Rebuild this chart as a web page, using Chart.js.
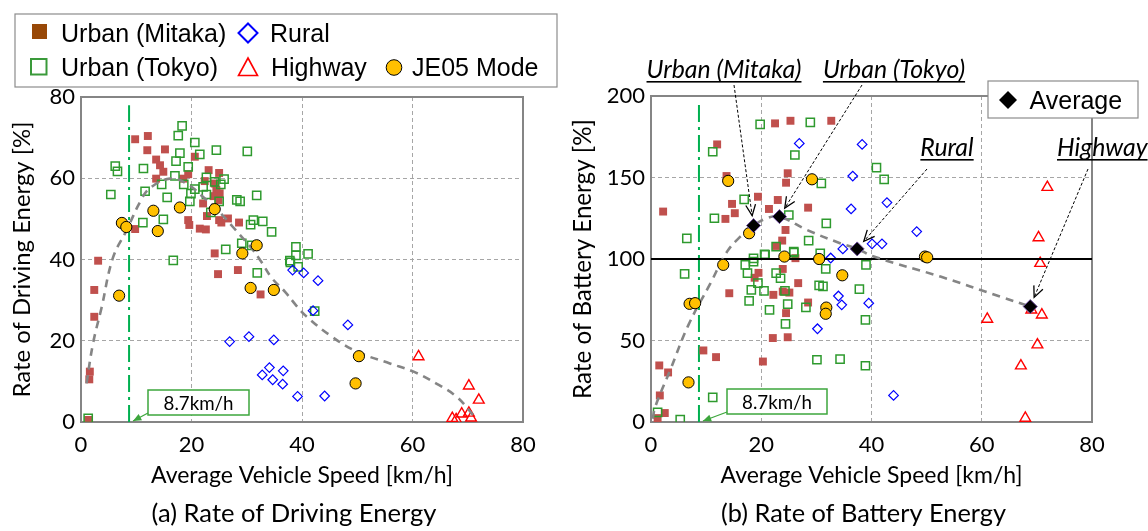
<!DOCTYPE html>
<html><head><meta charset="utf-8">
<script src="https://cdn.jsdelivr.net/npm/chart.js@4.4.1/dist/chart.umd.min.js"></script>
<style>
html,body{margin:0;padding:0;background:#fff;}
body{width:1148px;height:531px;position:relative;overflow:hidden;}
canvas{position:absolute;top:0;}
#ca{left:0;} #cb{left:560px;}
</style></head><body>
<canvas id="ca" width="560" height="531"></canvas>
<canvas id="cb" width="588" height="531"></canvas>
<script>
// ---------- data ----------
const speedTicks = [0, 20, 40, 60, 80];
const drivingTicks = [0, 20, 40, 60, 80];
const batteryTicks = [0, 50, 100, 150, 200];
const refSpeed = 8.7;
const seriesNames = ['Urban (Mitaka)', 'Rural', 'Urban (Tokyo)', 'Highway', 'JE05 Mode'];
const avgLabels = ['Urban (Mitaka)', 'Urban (Tokyo)', 'Rural', 'Highway'];

// (a) Rate of Driving Energy [%] vs speed
const driveMitaka = [[9.8,69.6],[12.1,70.4],[12.0,66.9],[15.2,67.1],[13.6,64.6],[14.3,63.2],[14.9,61.6],[13.6,59.9],[20.6,65.3],[23.1,62.0],[25.0,61.3],[18.5,59.9],[19.4,61.0],[22.4,59.3],[24.2,58.7],[24.5,57.1],[25.1,56.3],[24.0,55.6],[24.9,54.6],[22.1,53.8],[19.4,49.7],[19.6,48.5],[22.8,50.7],[21.5,47.6],[22.6,47.4],[9.8,47.5],[25.0,49.7],[26.6,50.1],[25.4,49.1],[28.6,49.1],[24.2,41.5],[3.1,39.7],[24.8,36.4],[28.4,37.4],[32.5,31.4],[2.4,32.5],[2.4,25.9],[1.6,12.4],[1.5,10.5],[1.3,0.5]];
const driveTokyo = [[18.3,72.9],[17.6,70.5],[20.6,68.8],[24.5,66.9],[30.1,66.6],[17.9,66.2],[21.5,65.9],[17.2,64.2],[19.4,62.8],[6.2,63.0],[6.6,61.7],[11.3,62.4],[17.0,60.6],[14.6,58.5],[18.6,58.5],[22.7,60.2],[24.2,59.1],[25.9,59.8],[25.3,58.5],[20.6,57.3],[22.1,57.9],[19.9,56.2],[11.6,56.8],[5.4,56.0],[15.6,55.3],[22.7,56.0],[31.8,55.8],[19.7,54.3],[25.0,54.3],[28.2,54.7],[28.8,54.3],[14.9,49.9],[11.2,49.1],[23.5,51.6],[31.2,49.7],[32.9,49.4],[30.7,48.6],[34.5,46.8],[29.1,44.0],[30.9,43.5],[26.2,42.5],[38.9,43.1],[38.9,41.0],[16.7,39.8],[37.8,39.7],[41.1,41.4],[31.9,36.7],[37.9,39.3],[39.3,38.2],[42.3,27.3],[1.3,0.9]];
const driveRural = [[26.9,19.8],[30.4,21.0],[34.9,20.2],[34.1,13.4],[36.6,12.6],[32.8,11.6],[34.7,10.4],[36.5,9.3],[39.2,6.3],[44.1,6.4],[38.3,37.4],[40.3,36.7],[42.9,34.8],[42.0,27.4],[48.3,23.9]];
const driveHighway = [[61.1,16.1],[70.2,8.9],[72.0,5.4],[67.2,0.9],[68.9,2.0],[70.2,2.2],[70.6,1.0],[67.9,0.6]];
const driveJE05 = [[7.4,49.0],[8.2,48.0],[13.1,52.0],[13.9,47.0],[17.9,52.8],[24.2,52.4],[29.2,41.5],[31.8,43.5],[6.9,31.1],[30.7,33.0],[34.9,32.5],[50.3,16.2],[49.7,9.5]];
const driveTrend = [[1.0,9.5],[2.2,19.5],[3.7,28.0],[5.8,40.5],[8.3,47.3],[10.7,54.2],[12.5,57.6],[16.1,59.9],[19.1,58.7],[22.1,55.4],[24.5,52.5],[27.5,48.0],[30.9,42.7],[32.6,39.5],[34.5,35.5],[36.9,32.1],[39.0,28.6],[40.8,26.0],[45.0,21.4],[49.8,17.4],[55.9,14.4],[60.2,12.4],[64.4,9.4],[68.0,6.2],[71.0,1.7]];

// (b) Rate of Battery Energy [%] vs speed
const battMitaka = [[12.0,170.3],[22.5,183.2],[25.3,184.8],[32.7,184.8],[13.7,150.9],[2.2,129.1],[19.4,138.2],[14.7,133.8],[15.2,128.1],[13.5,124.6],[23.0,136.2],[21.4,130.7],[24.8,152.6],[24.5,146.8],[28.5,131.5],[24.4,117.8],[23.8,111.3],[22.7,108.0],[14.2,79.0],[18.8,88.5],[19.5,91.5],[23.9,93.9],[22.2,78.0],[23.9,80.0],[25.1,79.4],[26.7,85.2],[28.5,73.3],[24.5,66.8],[22.1,51.5],[24.8,52.0],[20.3,37.1],[9.5,43.9],[11.8,39.8],[1.5,34.7],[3.1,30.4],[1.6,16.3],[2.5,5.5],[1.2,2.4],[26.2,100.5]];
const battTokyo = [[19.8,182.6],[28.9,183.8],[11.2,165.8],[26.1,163.8],[30.9,146.4],[16.9,136.6],[11.5,125.0],[6.5,112.7],[25.0,127.0],[31.8,121.9],[28.6,111.3],[22.7,107.6],[25.9,103.9],[20.6,102.9],[30.7,103.5],[18.6,100.4],[6.1,90.9],[17.1,96.4],[18.6,98.4],[17.5,91.3],[20.7,102.5],[19.4,85.2],[18.2,81.1],[20.5,80.4],[17.8,74.3],[22.7,91.3],[23.5,88.2],[24.3,80.5],[24.8,72.3],[21.5,68.8],[24.4,60.2],[28.1,70.3],[30.5,83.8],[31.2,83.2],[31.7,93.9],[25.9,104.6],[30.1,38.2],[34.3,38.6],[11.2,15.1],[1.2,5.9],[5.3,1.4],[40.9,156.0],[42.3,148.9],[39.0,96.4],[37.8,81.5],[38.9,62.7],[38.9,34.5]];
const battRural = [[26.9,170.9],[38.3,170.3],[36.6,150.9],[36.3,130.7],[34.8,106.2],[32.6,100.6],[42.8,134.6],[48.2,116.8],[40.1,109.3],[41.9,109.3],[30.2,57.2],[34.0,77.3],[34.6,71.9],[39.5,72.9],[44.0,16.3]];
const battHighway = [[71.9,144.0],[70.3,113.1],[70.6,97.4],[69.0,68.8],[70.9,65.7],[61.0,63.1],[70.1,47.4],[67.1,34.5],[67.9,2.4]];
const battJE05 = [[14.0,147.9],[29.2,148.9],[17.8,115.8],[24.2,101.5],[30.5,100.0],[13.1,96.4],[34.7,90.0],[7.0,72.5],[8.0,72.9],[31.8,70.2],[31.7,66.4],[6.8,24.3],[49.7,101.5],[50.1,101.0]];
const battAverage = [[18.6,120.5],[23.3,126.0],[37.4,106.2],[68.8,70.8]];
const battTrend = [[0.3,2.0],[0.8,9.6],[3.5,32.0],[6.8,59.6],[10.8,85.2],[13.8,104.5],[16.2,113.7],[18.6,120.5],[21.0,125.0],[23.3,126.0],[28.3,117.8],[34.3,109.7],[37.4,106.2],[40.4,101.5],[52.5,89.2],[63.3,77.0],[68.8,70.8]];
const battReference = [[0,100],[80,100]];

// ---------- helpers ----------
const pts = a => a.map(p => ({x: p[0], y: p[1]}));
const TICKFONT = {family: 'Lato', size: 22};
const GRID = '#A6A6A6';

function fitSize(ctx, text, family, style, target) {
  ctx.font = style + ' 100px ' + family;
  return 100 * target / ctx.measureText(text).width;
}
function textFit(ctx, text, x, y, target, family, style, align, baseline, color) {
  const s = fitSize(ctx, text, family, style, target);
  ctx.font = style + ' ' + s.toFixed(2) + 'px ' + family;
  ctx.textAlign = align; ctx.textBaseline = baseline; ctx.fillStyle = color || '#000';
  ctx.fillText(text, x, y);
  return s;
}
function arrow(ctx, x1, y1, x2, y2, color, dash, head, filled, lw) {
  ctx.save();
  ctx.strokeStyle = color; ctx.fillStyle = color; ctx.lineWidth = lw || 1;
  ctx.setLineDash(dash);
  ctx.beginPath(); ctx.moveTo(x1, y1); ctx.lineTo(x2, y2); ctx.stroke();
  ctx.setLineDash([]);
  const ang = Math.atan2(y2 - y1, x2 - x1);
  const a1 = ang + Math.PI - 0.42, a2 = ang + Math.PI + 0.42;
  ctx.beginPath();
  ctx.moveTo(x2 + head * Math.cos(a1), y2 + head * Math.sin(a1));
  ctx.lineTo(x2, y2);
  ctx.lineTo(x2 + head * Math.cos(a2), y2 + head * Math.sin(a2));
  if (filled) { ctx.closePath(); ctx.fill(); } else { ctx.lineWidth = 1.3; ctx.stroke(); }
  ctx.restore();
}
function frame(chart) {
  const a = chart.chartArea, ctx = chart.ctx;
  ctx.save(); ctx.strokeStyle = '#858585'; ctx.lineWidth = 2;
  ctx.strokeRect(a.left, a.top, a.right - a.left, a.bottom - a.top);
  ctx.restore();
}
function speedBox(chart, bx, by, bw, bh) {
  const ctx = chart.ctx;
  const tx = chart.scales.x.getPixelForValue(refSpeed) + 4;
  const ty = chart.scales.y.getPixelForValue(0) - 1;
  ctx.save();
  ctx.fillStyle = '#fff'; ctx.strokeStyle = '#3DA63D'; ctx.lineWidth = 1.5;
  ctx.fillRect(bx, by, bw, bh); ctx.strokeRect(bx, by, bw, bh);
  textFit(ctx, '8.7km/h', bx + bw / 2, by + bh / 2 + 1, 70, 'Lato', 'normal', 'center', 'middle');
  arrow(ctx, bx, by + bh - 2, tx, ty, '#3DA63D', [], 9, true, 1.3);
  ctx.restore();
}
function yTitle(chart, text, x, target) {
  const ctx = chart.ctx, a = chart.chartArea;
  ctx.save(); ctx.translate(x, (a.top + a.bottom) / 2); ctx.rotate(-Math.PI / 2);
  textFit(ctx, text, 0, 0, target, 'Lato', 'normal', 'center', 'middle');
  ctx.restore();
}
function bottomTexts(chart, xTitle, caption) {
  const ctx = chart.ctx, a = chart.chartArea, cx = (a.left + a.right) / 2;
  ctx.save();
  textFit(ctx, xTitle, cx, 483, 302, 'Lato', 'normal', 'center', 'alphabetic');
  textFit(ctx, caption, cx - 8, 522, 285, 'Lato', 'normal', 'center', 'alphabetic');
  ctx.restore();
}

function scaleCfg(ticks, min, max, pad, fitKey, fitVal) {
  return {
    type: 'linear', min: min, max: max,
    afterBuildTicks: s => { s.ticks = ticks.map(v => ({value: v})); },
    afterFit: s => { s[fitKey] = fitVal; },
    ticks: {font: TICKFONT, color: '#000', padding: pad, autoSkip: false, maxRotation: 0},
    grid: {color: GRID, lineWidth: 1, drawTicks: false},
    border: {display: false, dash: [4, 3]}
  };
}

const markerStyles = {
  mitaka: {pointStyle: 'rect', pointRadius: 5.6, backgroundColor: '#C0504D', borderColor: '#C0504D', borderWidth: 0},
  tokyo: {pointStyle: 'rect', pointRadius: 5.8, backgroundColor: 'rgba(0,0,0,0)', borderColor: '#2E9A2E', borderWidth: 1.5},
  rural: {pointStyle: 'rectRot', pointRadius: 4.8, backgroundColor: 'rgba(0,0,0,0)', borderColor: '#0000FF', borderWidth: 1.2},
  highway: {pointStyle: 'triangle', pointRadius: 6.2, backgroundColor: 'rgba(0,0,0,0)', borderColor: '#FF0000', borderWidth: 1.4},
  je05: {pointStyle: 'circle', pointRadius: 5.6, backgroundColor: '#FFC000', borderColor: '#000', borderWidth: 1}
};
function scat(label, data, st, order) {
  return Object.assign({type: 'scatter', label: label, data: pts(data), order: order, pointHoverRadius: st.pointRadius}, st);
}
function lineDs(label, data, color, dash, width, order, tension) {
  return {type: 'line', label: label, data: pts(data), borderColor: color, borderDash: dash, borderWidth: width,
    pointRadius: 0, fill: false, tension: tension, order: order};
}

// ---------- legend of (a) ----------
function drawLegend(ctx) {
  ctx.save();
  ctx.fillStyle = '#fff'; ctx.strokeStyle = '#8C8C8C'; ctx.lineWidth = 1.2;
  ctx.fillRect(15, 14, 542, 73); ctx.strokeRect(15, 14, 542, 73);
  ctx.font = '25px "Liberation Sans", Arial, sans-serif';
  ctx.fillStyle = '#000'; ctx.textAlign = 'left'; ctx.textBaseline = 'alphabetic';
  // row 1
  ctx.fillStyle = '#984807'; ctx.fillRect(32, 24, 15, 15);
  ctx.fillStyle = '#000'; ctx.fillText(seriesNames[0], 61, 42);
  ctx.strokeStyle = '#0000FF'; ctx.lineWidth = 2;
  ctx.beginPath(); ctx.moveTo(248, 23.5); ctx.lineTo(257.5, 33); ctx.lineTo(248, 42.5); ctx.lineTo(238.5, 33); ctx.closePath(); ctx.stroke();
  ctx.fillText(seriesNames[1], 270, 42);
  // row 2
  ctx.strokeStyle = '#3A9A3A'; ctx.lineWidth = 2; ctx.strokeRect(31, 59, 15.5, 15.5);
  ctx.fillText(seriesNames[2], 61, 76);
  ctx.strokeStyle = '#FF0000'; ctx.lineWidth = 1.6;
  ctx.beginPath(); ctx.moveTo(248, 58); ctx.lineTo(257.5, 75.5); ctx.lineTo(238.5, 75.5); ctx.closePath(); ctx.stroke();
  ctx.fillText(seriesNames[3], 271, 76);
  ctx.fillStyle = '#FFC000'; ctx.strokeStyle = '#000'; ctx.lineWidth = 1;
  ctx.beginPath(); ctx.arc(394, 67.5, 7.8, 0, Math.PI * 2); ctx.fill(); ctx.stroke();
  ctx.fillStyle = '#000'; ctx.fillText(seriesNames[4], 412, 76);
  ctx.restore();
}

// ---------- chart (a) ----------
const plugA = {
  id: 'plugA',
  beforeDatasetsDraw(chart) { frame(chart); },
  afterDraw(chart) {
    const ctx = chart.ctx;
    yTitle(chart, 'Rate of Driving Energy [%]', 22, 276);
    bottomTexts(chart, 'Average Vehicle Speed [km/h]', '(a) Rate of Driving Energy');
    speedBox(chart, 148, 390, 101, 25);
    drawLegend(ctx);
  }
};
new Chart(document.getElementById('ca'), {
  type: 'scatter',
  data: {datasets: [
    scat(seriesNames[4], driveJE05, markerStyles.je05, 0),
    lineDs('trend', driveTrend, '#858585', [8, 6], 2.6, 1, 0.4),
    scat(seriesNames[3], driveHighway, markerStyles.highway, 2),
    scat(seriesNames[1], driveRural, markerStyles.rural, 3),
    scat(seriesNames[2], driveTokyo, markerStyles.tokyo, 4),
    scat(seriesNames[0], driveMitaka, markerStyles.mitaka, 5),
    lineDs('8.7km/h', [[refSpeed, 0], [refSpeed, 78]], '#00B050', [17, 5, 3, 5], 2, 6, 0)
  ]},
  options: {
    responsive: false, animation: false, devicePixelRatio: 1,
    layout: {padding: {left: 0, right: 37, top: 97, bottom: 0}},
    plugins: {legend: {display: false}, tooltip: {enabled: false}},
    scales: {
      x: scaleCfg(speedTicks, 0, 80, 10, 'height', 109),
      y: scaleCfg(drivingTicks, 0, 80, 6, 'width', 81)
    }
  },
  plugins: [plugA]
});

// ---------- chart (b) ----------
const plugB = {
  id: 'plugB',
  beforeDatasetsDraw(chart) { frame(chart); },
  afterDraw(chart) {
    const ctx = chart.ctx, xs = chart.scales.x, ys = chart.scales.y;
    yTitle(chart, 'Rate of Battery Energy [%]', 23, 280);
    bottomTexts(chart, 'Average Vehicle Speed [km/h]', '(b) Rate of Battery Energy');
    speedBox(chart, 167, 389, 100, 25);
    // average legend box
    ctx.save();
    ctx.fillStyle = '#fff'; ctx.strokeStyle = '#8C8C8C'; ctx.lineWidth = 1.2;
    ctx.fillRect(428, 81, 150, 37); ctx.strokeRect(428, 81, 150, 37);
    ctx.fillStyle = '#000';
    ctx.beginPath(); ctx.moveTo(448, 91); ctx.lineTo(457, 100); ctx.lineTo(448, 109); ctx.lineTo(439, 100); ctx.closePath(); ctx.fill();
    ctx.font = '25px "Liberation Sans", Arial, sans-serif'; ctx.textAlign = 'left'; ctx.textBaseline = 'alphabetic';
    ctx.fillText('Average', 469.5, 109);
    ctx.restore();
    // labels with arrows
    const lab = [
      {t: avgLabels[0], x: 164, y: 78, align: 'center', sx: 174, sy: 85},
      {t: avgLabels[1], x: 334, y: 78, align: 'center', sx: 302, sy: 85},
      {t: avgLabels[2], x: 387, y: 156, align: 'center', sx: 367, sy: 169},
      {t: avgLabels[3], x: 497, y: 156, align: 'left', sx: 528, sy: 169}
    ];
    ctx.save();
    const fs = fitSize(ctx, avgLabels[0], 'Lato', 'italic', 155);
    ctx.font = 'italic ' + fs.toFixed(2) + 'px Lato';
    ctx.fillStyle = '#000'; ctx.textBaseline = 'alphabetic';
    lab.forEach((L, i) => {
      ctx.textAlign = L.align;
      ctx.fillText(L.t, L.x, L.y);
      const w = ctx.measureText(L.t).width;
      const x0 = L.align === 'center' ? L.x - w / 2 : L.x;
      ctx.fillRect(x0, L.y + 3, w, 1.6);
      const px = xs.getPixelForValue(battAverage[i][0]), py = ys.getPixelForValue(battAverage[i][1]);
      const dx = L.sx - px, dy = L.sy - py, d = Math.hypot(dx, dy);
      arrow(ctx, L.sx, L.sy, px + dx / d * 10, py + dy / d * 10, '#000', [3, 2], 12, false, 1);
    });
    ctx.restore();
  }
};
new Chart(document.getElementById('cb'), {
  type: 'scatter',
  data: {datasets: [
    scat('Average', battAverage, {pointStyle: 'rectRot', pointRadius: 7, backgroundColor: '#000', borderColor: '#6A4A9A', borderWidth: 1}, 0),
    scat(seriesNames[4], battJE05, markerStyles.je05, 1),
    lineDs('trend', battTrend, '#858585', [8, 6], 2.6, 2, 0.4),
    lineDs('100%', battReference, '#000', [], 2, 3, 0),
    scat(seriesNames[3], battHighway, markerStyles.highway, 4),
    scat(seriesNames[1], battRural, markerStyles.rural, 5),
    scat(seriesNames[2], battTokyo, markerStyles.tokyo, 6),
    scat(seriesNames[0], battMitaka, markerStyles.mitaka, 7),
    lineDs('8.7km/h', [[refSpeed, 0], [refSpeed, 196]], '#00B050', [17, 5, 3, 5], 2, 8, 0)
  ]},
  options: {
    responsive: false, animation: false, devicePixelRatio: 1,
    layout: {padding: {left: 0, right: 56, top: 96, bottom: 0}},
    plugins: {legend: {display: false}, tooltip: {enabled: false}},
    scales: {
      x: scaleCfg(speedTicks, 0, 80, 10, 'height', 109),
      y: scaleCfg(batteryTicks, 0, 200, 6, 'width', 91)
    }
  },
  plugins: [plugB]
});
</script>
</body></html>
